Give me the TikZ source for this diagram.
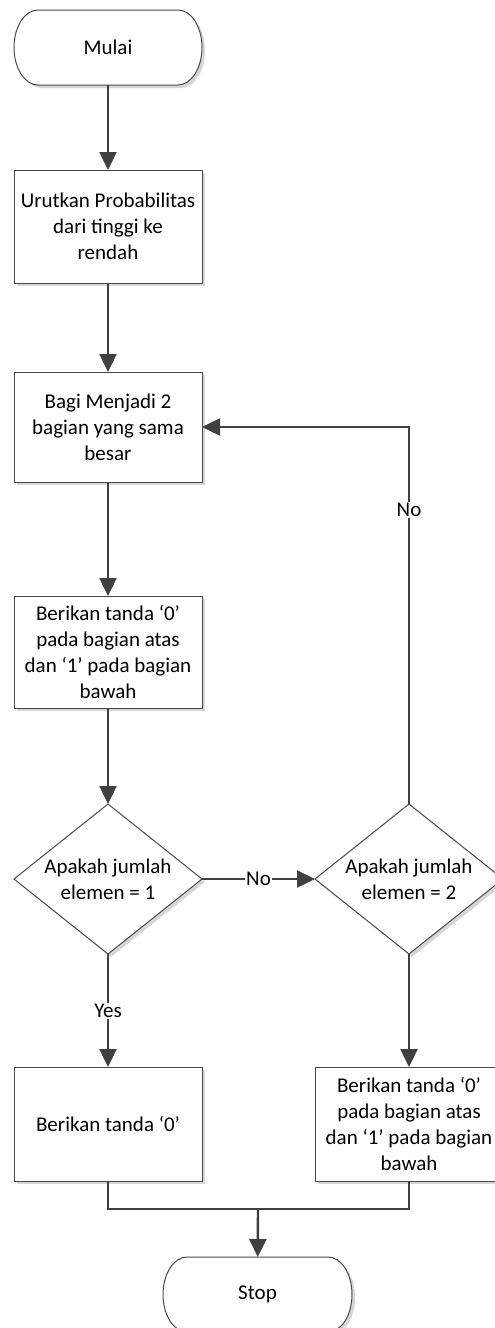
\documentclass[tikz,border=0pt]{standalone}
\usepackage{fontspec}
\setmainfont{Carlito}
\usetikzlibrary{shapes.geometric,arrows.meta,shadows}

\definecolor{linegrey}{HTML}{404040}
\definecolor{boxgrey}{HTML}{4A4A4A}
\definecolor{shadowgrey}{HTML}{D6D6D6}

% terminal outline with elliptic ends: x1, y1, x2, y2 (pixel units)
\newcommand\termpath[4]{%
  ({#1+24},{#2}) -- ({#3-24},{#2})
  .. controls ({#3-10.75},{#2}) and ({#3},{(#2+#4)/2-20.7}) .. ({#3},{(#2+#4)/2})
  .. controls ({#3},{(#2+#4)/2+20.7}) and ({#3-10.75},{#4}) .. ({#3-24},{#4})
  -- ({#1+24},{#4})
  .. controls ({#1+10.75},{#4}) and ({#1},{(#2+#4)/2+20.7}) .. ({#1},{(#2+#4)/2})
  .. controls ({#1},{(#2+#4)/2-20.7}) and ({#1+10.75},{#2}) .. ({#1+24},{#2}) -- cycle}

\begin{document}
\begin{tikzpicture}[x=0.5pt,y=-0.5pt,
  font=\fontsize{10.5}{13}\selectfont,
  line/.style={draw=linegrey, line width=1.2pt},
  arrow/.style={line, -{Triangle[length=9pt,width=8.5pt]}},
  shade/.style={drop shadow={shadow xshift=1.5pt, shadow yshift=-1.5pt, fill=shadowgrey, opacity=1}},
  proc/.style={draw=boxgrey, line width=0.5pt, fill=white, shade,
    minimum width=94pt, align=center, inner sep=0pt, outer sep=0pt},
  decision/.style={shape=diamond, draw=boxgrey, line width=0.5pt, fill=white, shade,
    minimum width=94pt, minimum height=75pt, align=center, inner sep=-12pt, outer sep=0pt},
  term/.style={minimum width=94pt, minimum height=37.5pt, inner sep=0pt, outer sep=0pt},
  lbl/.style={fill=white, inner sep=0.6pt, text=black}]

\useasboundingbox (0,0) rectangle (494,1328);

% terminal outlines with their shadows
\fill[shadowgrey, shift={(3,3)}] \termpath{14}{10}{202}{85};
\filldraw[fill=white, draw=boxgrey, line width=0.5pt] \termpath{14}{10}{202}{85};
\fill[shadowgrey, shift={(3,3)}] \termpath{163}{1257}{352}{1332};
\filldraw[fill=white, draw=boxgrey, line width=0.5pt] \termpath{163}{1257}{352}{1332};

\node[term] (start) at (108,47.5) {Mulai};
\node[term] (stop) at (257.5,1294.5) {Stop};

\node[proc, minimum height=56.5pt] (b1) at (108,226.5) {Urutkan Probabilitas\\dari tinggi ke\\rendah};
\node[proc, minimum height=55pt] (b2) at (108,427) {Bagi Menjadi 2\\bagian yang sama\\besar};
\node[proc, minimum height=56pt] (b3) at (108,652) {Berikan tanda ‘0’\\pada bagian atas\\dan ‘1’ pada bagian\\bawah};
\node[decision] (d1) at (108,879) {Apakah jumlah\\elemen = 1};
\node[decision] (d2) at (409,879) {Apakah jumlah\\elemen = 2};
\node[proc, minimum height=57pt] (b4) at (108,1124) {Berikan tanda ‘0’};
\node[proc, minimum height=57pt] (b5) at (409,1124) {Berikan tanda ‘0’\\pada bagian atas\\dan ‘1’ pada bagian\\bawah};

\coordinate (m) at (258,1209);

\draw[arrow] (start) -- (b1);
\draw[arrow] (b1) -- (b2);
\draw[arrow] (b2) -- (b3);
\draw[arrow] (b3) -- (d1);
\draw[arrow] (d1) -- node[lbl] {No} (d2);
\draw[arrow] (d1) -- node[lbl] {Yes} (b4);
\draw[arrow] (d2) -- (b5);
\draw[arrow] (d2.north) |- node[lbl, pos=0.39] {No} (b2.east);
\draw[line] (b4.south) |- (m) -| (b5.south);
\draw[arrow] (m) -- (stop);

\end{tikzpicture}
\end{document}
